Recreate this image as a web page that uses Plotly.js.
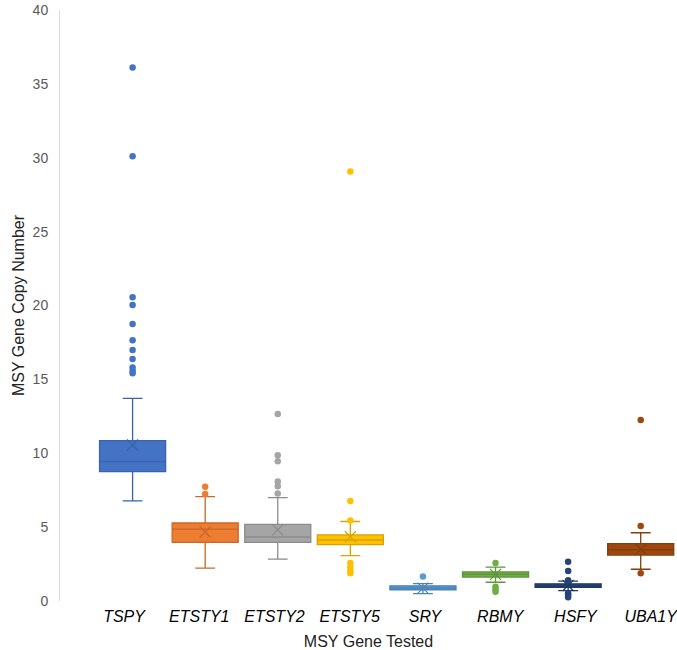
<!DOCTYPE html>
<html>
<head>
<meta charset="utf-8">
<script src="https://cdn.plot.ly/plotly-3.0.1.min.js"></script>
<style>html,body{margin:0;padding:0;background:#fff;}</style>
</head>
<body>
<div id="chart" style="width:677px;height:650px;"></div>
<script>
const genes = ['TSPY','ETSTY1','ETSTY2','ETSTY5','SRY','RBMY','HSFY','UBA1Y'];
const q1Vals     = [8.75, 3.97, 3.97, 3.82, 0.76, 1.62, 0.92, 3.11];
const medianVals = [9.43, 4.87, 4.33, 4.13, 0.88, 1.80, 1.02, 3.47];
const q3Vals     = [10.85, 5.28, 5.19, 4.47, 1.03, 1.97, 1.16, 3.88];
const lowerVals  = [6.77, 2.23, 2.84, 3.07, 0.50, 1.27, 0.70, 2.15];
const upperVals  = [13.72, 7.06, 6.99, 5.38, 1.18, 2.29, 1.34, 4.62];
const meanVals   = [10.56, 4.67, 4.81, 4.35, 0.87, 1.80, 1.05, 3.50];
const outlierTSPY   = [36.1, 30.1, 20.56, 20.04, 18.75, 17.65, 16.99, 16.38, 15.8, 15.59, 15.42];
const outlierETSTY1 = [7.74, 7.24];
const outlierETSTY2 = [12.66, 9.86, 9.46, 8.08, 7.76, 7.27];
const outlierETSTY5 = [29.07, 6.77, 5.45, 2.57, 2.30, 2.07, 1.87];
const outlierSRY    = [1.65];
const outlierRBMY   = [2.58, 0.96, 0.78, 0.63];
const outlierHSFY   = [2.66, 2.03, 1.41, 0.53, 0.40, 0.26];
const outlierUBA1Y  = [12.25, 5.08, 1.87];
const outliers = [outlierTSPY, outlierETSTY1, outlierETSTY2, outlierETSTY5, outlierSRY, outlierRBMY, outlierHSFY, outlierUBA1Y];

const fillColors = ['#4472C4','#ED7D31','#A5A5A5','#FFC000','#5B9BD5','#70AD47','#264478','#9E480E'];
const lineColors = ['#3a63ad','#c8682a','#8c8c8c','#d9a300','#4d84b5','#5f933c','#203a66','#863d0c'];

const FONT = 'Liberation Sans, Arial, sans-serif';
const traces = [];
genes.forEach((g, i) => {
  traces.push({
    type: 'box', x: [g], q1: [q1Vals[i]], median: [medianVals[i]], q3: [q3Vals[i]],
    lowerfence: [lowerVals[i]], upperfence: [upperVals[i]],
    boxpoints: false, width: 0.91, whiskerwidth: 0.3,
    fillcolor: fillColors[i], line: {color: lineColors[i], width: 1.3},
    hoverinfo: 'skip', showlegend: false
  });
  traces.push({
    type: 'scatter', mode: 'markers', x: outliers[i].map(() => g), y: outliers[i],
    marker: {color: fillColors[i], size: 6.5}, hoverinfo: 'skip', showlegend: false
  });
  traces.push({
    type: 'scatter', mode: 'markers', x: [g], y: [meanVals[i]],
    marker: {symbol: 'x-thin-open', size: 11, color: lineColors[i], line: {color: lineColors[i], width: 1.2}},
    hoverinfo: 'skip', showlegend: false
  });
});
traces.push({type: 'scatter', mode: 'markers', x: genes, y: genes.map(() => null), xaxis: 'x2', yaxis: 'y', hoverinfo: 'skip', showlegend: false});

const layout = {
  width: 677, height: 650,
  margin: {l: 60, r: 0, t: 10, b: 49},
  paper_bgcolor: '#fff', plot_bgcolor: '#fff',
  boxmode: 'overlay', showlegend: false,
  font: {family: FONT},
  xaxis: {type: 'category', categoryarray: genes, range: [-1.0, 7.5],
    showticklabels: false, showline: false, showgrid: false, zeroline: false, ticks: ''},
  xaxis2: {type: 'category', categoryarray: genes, range: [-0.851, 7.35], overlaying: 'x', anchor: 'y', side: 'bottom',
    showline: false, showgrid: false, zeroline: false, ticks: '', ticklabelstandoff: 4,
    tickfont: {family: FONT, size: 16, style: 'italic', color: '#000'},
    title: {text: 'MSY Gene Tested', font: {family: FONT, size: 16, color: '#222'}, standoff: 12}},
  yaxis: {range: [0, 40], dtick: 5, tick0: 0, showgrid: false, zeroline: false,
    showline: true, linecolor: '#d9d9d9', linewidth: 1, ticks: '', ticklabelstandoff: 8,
    tickfont: {family: FONT, size: 14, color: '#595959'},
    title: {text: 'MSY Gene Copy Number', font: {family: FONT, size: 16, color: '#222'}, standoff: 4}}
};
Plotly.newPlot('chart', traces, layout, {staticPlot: true, displayModeBar: false});
</script>
</body>
</html>
